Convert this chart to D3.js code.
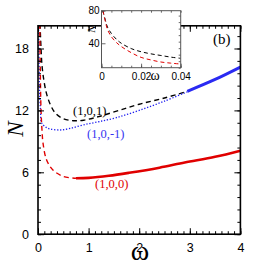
<!DOCTYPE html>
<html>
<head>
<meta charset="utf-8">
<script src="https://cdn.jsdelivr.net/npm/d3@7"></script>
<style>
  body { margin: 0; background: #fff; }
  svg { display: block; }
  .tick text { font-family: "Liberation Sans", Arial, sans-serif; }
</style>
</head>
<body>
<script>
// main panel data
const xTicks = [0, 1, 2, 3, 4];
const yTicks = [0, 6, 12, 18];

const red100Dash = [[0.035, 20.4], [0.045, 16], [0.06, 12], [0.08, 10], [0.1, 8.8], [0.17, 7.2],
  [0.3, 6.2], [0.5, 5.6], [0.75, 5.42]];
const red100Solid = [[0.75, 5.42], [1, 5.46], [1.4, 5.66], [1.8, 5.95], [2.4, 6.45], [2.9, 6.95],
  [3.5, 7.5], [4, 8.1]];
const black101 = [[0.04, 20.4], [0.06, 18], [0.08, 16.3], [0.12, 14.8], [0.17, 13.6], [0.25, 12.5],
  [0.35, 11.7], [0.5, 11.2], [0.7, 11.0], [0.9, 11.05], [1.2, 11.4], [1.6, 12.0], [2.0, 12.6],
  [2.5, 13.2], [2.95, 13.85]];
const blue10m1Dot = [[0.01, 20.4], [0.02, 17], [0.03, 14], [0.05, 12], [0.07, 10.8], [0.15, 10.4],
  [0.24, 10.2], [0.43, 10.1], [0.63, 10.25], [0.9, 10.6], [1.2, 10.9], [1.55, 11.3], [2.0, 12.0],
  [2.5, 12.9], [2.95, 13.8]];
const blue10m1Solid = [[2.95, 13.85], [3.5, 15.0], [4, 16.2]];

// inset data
const insetXTicks = [0, 0.02, 0.04];
const insetYTicks = [40, 80];
const insetBlack = [[0.0007, 80], [0.002, 68], [0.003, 60], [0.005, 52], [0.0075, 45], [0.01, 40],
  [0.015, 33.5], [0.02, 29.6], [0.025, 27], [0.03, 25], [0.035, 23], [0.04, 21.5]];
const insetRed = [[0.0007, 80], [0.002, 66], [0.003, 57], [0.005, 48], [0.0075, 41], [0.01, 36],
  [0.015, 28.5], [0.02, 22.7], [0.025, 19.5], [0.03, 17], [0.035, 15.6], [0.04, 14.5]];

const width = 273, height = 276;
const svg = d3.select("body").append("svg")
  .attr("width", width)
  .attr("height", height);

// main scales
const x = d3.scaleLinear().domain([0, 4]).range([38, 240.4]);
const y = d3.scaleLinear().domain([0, 20.2]).range([234.2, 25.8]);

svg.append("clipPath").attr("id", "clipMain")
  .append("rect")
  .attr("x", x(0)).attr("y", y(20.2))
  .attr("width", x(4) - x(0)).attr("height", y(0) - y(20.2));

const line = d3.line()
  .x(d => x(d[0]))
  .y(d => y(d[1]))
  .curve(d3.curveCatmullRom);

const plot = svg.append("g").attr("clip-path", "url(#clipMain)");

plot.append("path").datum(black101)
  .attr("d", line).attr("fill", "none")
  .attr("stroke", "#000").attr("stroke-width", 1.4)
  .attr("stroke-dasharray", "5,3.5");

plot.append("path").datum(blue10m1Dot)
  .attr("d", line).attr("fill", "none")
  .attr("stroke", "#2020f0").attr("stroke-width", 1.3)
  .attr("stroke-dasharray", "1.3,1.7");

plot.append("path").datum(blue10m1Solid)
  .attr("d", line).attr("fill", "none")
  .attr("stroke", "#2a2af2").attr("stroke-width", 3);

plot.append("path").datum(red100Dash)
  .attr("d", line).attr("fill", "none")
  .attr("stroke", "#e00000").attr("stroke-width", 1.4)
  .attr("stroke-dasharray", "5,3.5");

plot.append("path").datum(red100Solid)
  .attr("d", line).attr("fill", "none")
  .attr("stroke", "#e00000").attr("stroke-width", 2.6);

// main axes: ticks inward on all four sides
const xMinor = d3.range(0, 4.0001, 0.125);
const yMinor = d3.range(0, 20.2, 1.2);

svg.append("g")
  .attr("transform", `translate(0,${y(0)})`)
  .call(d3.axisBottom(x).tickValues(xMinor).tickSize(-3).tickFormat(""))
  .call(g => g.select(".domain").remove());
svg.append("g")
  .attr("transform", `translate(0,${y(0)})`)
  .call(d3.axisBottom(x).tickValues(xTicks).tickSize(-6).tickPadding(9).tickFormat(d3.format("d")))
  .call(g => g.select(".domain").remove())
  .call(g => g.selectAll("text").attr("font-size", 12.5).attr("fill", "#000"));
svg.append("g")
  .attr("transform", `translate(0,${y(20.2)})`)
  .call(d3.axisTop(x).tickValues(xMinor).tickSize(-3).tickFormat(""))
  .call(g => g.select(".domain").remove());
svg.append("g")
  .attr("transform", `translate(0,${y(20.2)})`)
  .call(d3.axisTop(x).tickValues(xTicks).tickSize(-6).tickFormat(""))
  .call(g => g.select(".domain").remove());

svg.append("g")
  .attr("transform", `translate(${x(0)},0)`)
  .call(d3.axisLeft(y).tickValues(yMinor).tickSize(-3).tickFormat(""))
  .call(g => g.select(".domain").remove());
svg.append("g")
  .attr("transform", `translate(${x(0)},0)`)
  .call(d3.axisLeft(y).tickValues(yTicks).tickSize(-6).tickPadding(9).tickFormat(d3.format("d")))
  .call(g => g.select(".domain").remove())
  .call(g => g.selectAll("text").attr("font-size", 12.5).attr("fill", "#000"));
svg.append("g")
  .attr("transform", `translate(${x(4)},0)`)
  .call(d3.axisRight(y).tickValues(yMinor).tickSize(-3).tickFormat(""))
  .call(g => g.select(".domain").remove());
svg.append("g")
  .attr("transform", `translate(${x(4)},0)`)
  .call(d3.axisRight(y).tickValues(yTicks).tickSize(-6).tickFormat(""))
  .call(g => g.select(".domain").remove());

svg.selectAll(".tick line").attr("stroke", "#000").attr("stroke-width", 1);

// frame
svg.append("rect")
  .attr("x", x(0)).attr("y", y(20.2))
  .attr("width", x(4) - x(0)).attr("height", y(0) - y(20.2))
  .attr("fill", "none").attr("stroke", "#000").attr("stroke-width", 1.6);

// labels
const serif = "'Liberation Serif', 'Times New Roman', serif";
svg.append("text").attr("x", 73).attr("y", 114.5)
  .attr("font-family", serif).attr("font-size", 12.5).attr("fill", "#000").text("(1,0,1)");
svg.append("text").attr("x", 87).attr("y", 138)
  .attr("font-family", serif).attr("font-size", 12.5).attr("fill", "#3535f0").text("(1,0,-1)");
svg.append("text").attr("x", 95).attr("y", 188)
  .attr("font-family", serif).attr("font-size", 12.5).attr("fill", "#e00000").text("(1,0,0)");
svg.append("text").attr("x", 213).attr("y", 44)
  .attr("font-family", serif).attr("font-size", 15).attr("fill", "#000").text("(b)");

svg.append("text")
  .attr("transform", "translate(23,129) rotate(-90)")
  .attr("text-anchor", "middle")
  .attr("font-family", serif).attr("font-style", "italic").attr("font-size", 23)
  .attr("fill", "#000").text("N");
svg.append("text")
  .attr("x", 140).attr("y", 260)
  .attr("text-anchor", "middle")
  .attr("font-family", serif).attr("font-size", 28)
  .attr("fill", "#000").text("ω");

// inset
const ix = d3.scaleLinear().domain([0, 0.04]).range([101.5, 180.7]);
const iy = d3.scaleLinear().domain([10, 80]).range([67.7, 10.7]);

const inset = svg.append("g");
inset.append("rect")
  .attr("x", ix(0)).attr("y", iy(80))
  .attr("width", ix(0.04) - ix(0)).attr("height", iy(10) - iy(80))
  .attr("fill", "#fff");

inset.append("clipPath").attr("id", "clipInset")
  .append("rect")
  .attr("x", ix(0)).attr("y", iy(80))
  .attr("width", ix(0.04) - ix(0)).attr("height", iy(10) - iy(80));

const iline = d3.line()
  .x(d => ix(d[0]))
  .y(d => iy(d[1]))
  .curve(d3.curveCatmullRom);

const ip = inset.append("g").attr("clip-path", "url(#clipInset)");
ip.append("path").datum(insetBlack)
  .attr("d", iline).attr("fill", "none")
  .attr("stroke", "#000").attr("stroke-width", 1)
  .attr("stroke-dasharray", "4,3");
ip.append("path").datum(insetRed)
  .attr("d", iline).attr("fill", "none")
  .attr("stroke", "#e00000").attr("stroke-width", 1)
  .attr("stroke-dasharray", "4,3");

const ixMinor = d3.range(0, 0.04001, 0.005);
const iyMinor = d3.range(10, 80.01, 8);

inset.append("g")
  .attr("transform", `translate(0,${iy(10)})`)
  .call(d3.axisBottom(ix).tickValues(ixMinor).tickSize(-2).tickFormat(""))
  .call(g => g.select(".domain").remove());
inset.append("g")
  .attr("transform", `translate(0,${iy(10)})`)
  .call(d3.axisBottom(ix).tickValues(insetXTicks).tickSize(-4).tickPadding(5)
    .tickFormat(d => d === 0 ? "0" : d3.format(".2f")(d)))
  .call(g => g.select(".domain").remove())
  .call(g => g.selectAll("text").attr("font-size", 10).attr("fill", "#000"));
inset.append("g")
  .attr("transform", `translate(0,${iy(80)})`)
  .call(d3.axisTop(ix).tickValues(ixMinor).tickSize(-2).tickFormat(""))
  .call(g => g.select(".domain").remove());
inset.append("g")
  .attr("transform", `translate(${ix(0)},0)`)
  .call(d3.axisLeft(iy).tickValues(insetYTicks).tickSize(-4).tickPadding(2))
  .call(g => g.select(".domain").remove())
  .call(g => g.selectAll("text").attr("font-size", 10).attr("fill", "#000"));
inset.append("g")
  .attr("transform", `translate(${ix(0.04)},0)`)
  .call(d3.axisRight(iy).tickValues(iyMinor).tickSize(-2).tickFormat(""))
  .call(g => g.select(".domain").remove());

inset.selectAll(".tick line").attr("stroke", "#444").attr("stroke-width", 0.8);

inset.append("rect")
  .attr("x", ix(0)).attr("y", iy(80))
  .attr("width", ix(0.04) - ix(0)).attr("height", iy(10) - iy(80))
  .attr("fill", "none").attr("stroke", "#555").attr("stroke-width", 1);

inset.append("text")
  .attr("transform", "translate(95,29) rotate(-90)")
  .attr("text-anchor", "middle")
  .attr("font-family", serif).attr("font-style", "italic").attr("font-size", 11)
  .attr("fill", "#000").text("N");
inset.append("text")
  .attr("x", 155).attr("y", 80)
  .attr("text-anchor", "middle")
  .attr("font-family", serif).attr("font-size", 14)
  .attr("fill", "#000").text("ω");
</script>
</body>
</html>
